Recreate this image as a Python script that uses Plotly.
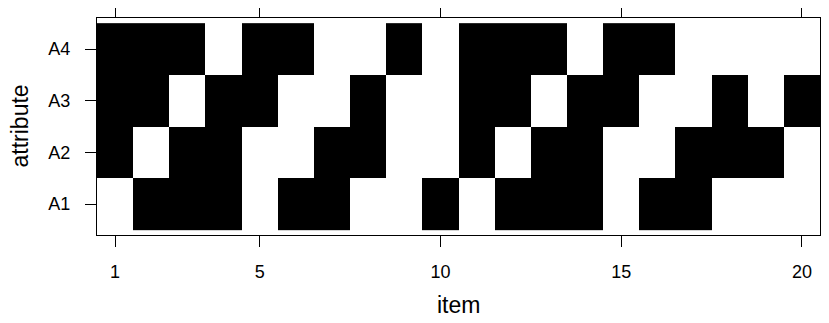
import plotly.graph_objects as go

items = list(range(1, 21))
attributes = ["A1", "A2", "A3", "A4"]
A1 = [0, 1, 1, 1, 0, 1, 1, 0, 0, 1, 0, 1, 1, 1, 0, 1, 1, 0, 0, 0]
A2 = [1, 0, 1, 1, 0, 0, 1, 1, 0, 0, 1, 0, 1, 1, 0, 0, 1, 1, 1, 0]
A3 = [1, 1, 0, 1, 1, 0, 0, 1, 0, 0, 1, 1, 0, 1, 1, 0, 0, 1, 0, 1]
A4 = [1, 1, 1, 0, 1, 1, 0, 0, 1, 0, 1, 1, 1, 0, 1, 1, 0, 0, 0, 0]
x_ticks = [1, 5, 10, 15, 20]

fig = go.Figure(go.Heatmap(
    x=items, y=attributes, z=[A1, A2, A3, A4],
    colorscale=[[0, "white"], [1, "black"]], zmin=0, zmax=1,
    showscale=False, hoverinfo="skip",
))

font = "Liberation Sans, Arial, sans-serif"
fig.update_layout(
    width=821, height=315,
    margin=dict(l=89, r=9, t=10, b=88, autoexpand=False),
    paper_bgcolor="white", plot_bgcolor="white",
    font=dict(family=font, color="black"),
    xaxis=dict(range=[0.5, 20.5], tickvals=x_ticks, ticks="outside", ticklen=11,
               tickcolor="black", showline=True, linecolor="black", linewidth=1,
               mirror="ticks", showgrid=False, zeroline=False, automargin=False,
               tickfont=dict(size=18, family=font), ticklabelstandoff=9),
    yaxis=dict(range=[-0.6, 3.6], type="category", ticks="outside", ticklen=11,
               tickcolor="black", showline=True, linecolor="black", linewidth=1,
               mirror="ticks", showgrid=False, zeroline=False, automargin=False,
               tickfont=dict(size=18, family=font), ticklabelstandoff=11),
    annotations=[
        dict(text="item", x=0.5, y=0, xref="paper", yref="paper", yshift=-70,
             xanchor="center", yanchor="middle", showarrow=False, borderpad=0,
             font=dict(size=23, family=font)),
        dict(text="attribute", x=0, y=0.5, xref="paper", yref="paper", xshift=-78,
             xanchor="center", yanchor="middle", textangle=-90, showarrow=False,
             borderpad=0, font=dict(size=23, family=font)),
    ],
)
fig.write_html("out.html")
